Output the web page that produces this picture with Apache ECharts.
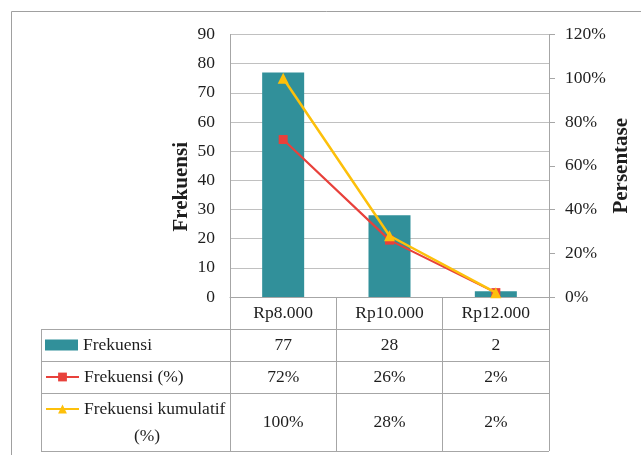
<!DOCTYPE html>
<html>
<head>
<meta charset="utf-8">
<script src="https://cdn.jsdelivr.net/npm/echarts@6/dist/echarts.min.js"></script>
<style>
html,body{margin:0;padding:0;background:#fff;}
#chart{width:641px;height:455px;}
</style>
</head>
<body>
<div id="chart"></div>
<script>
const categories = ['Rp8.000', 'Rp10.000', 'Rp12.000'];
const frekuensi = [77, 28, 2];
const frekuensiPct = [0.72, 0.26, 0.02];
const kumulatifPct = [1.00, 0.28, 0.02];
const seriesNames = ['Frekuensi', 'Frekuensi (%)', 'Frekuensi kumulatif (%)'];
const leftAxisTitle = 'Frekuensi';
const rightAxisTitle = 'Persentase';

const FONT = '"Liberation Serif", "Times New Roman", serif';
const TXT = '#1e1e1e';
const LINE = '#a6a6a6';
const GRID = '#c0c0c0';
const FS = 17.5;
const TEAL = '#31909a', RED = '#e8413b', YEL = '#fdc00b';

const pct = v => Math.round(v * 100) + '%';

const chart = echarts.init(document.getElementById('chart'), null, {renderer: 'canvas'});

const baseLegend = {
  orient: 'vertical', left: 45, padding: 0, itemWidth: 33, itemHeight: 11, itemGap: 5,
  textStyle: {fontFamily: FONT, fontSize: FS, color: TXT, lineHeight: 20},
  selectedMode: false
};

const option = {
  animation: false,
  backgroundColor: '#fff',
  grid: {left: 230, right: 92, top: 34.5, bottom: 158, containLabel: false},
  legend: [
    Object.assign({}, baseLegend, {top: 335, data: [{name: seriesNames[0], icon: 'rect'}]}),
    Object.assign({}, baseLegend, {top: 367, data: [seriesNames[1]]}),
    Object.assign({}, baseLegend, {top: 399, data: [seriesNames[2]], formatter: () => 'Frekuensi kumulatif'})
  ],
  xAxis: {
    type: 'category', data: categories, boundaryGap: true,
    axisLine: {show: true, lineStyle: {color: LINE, width: 1}},
    axisTick: {show: true, length: 154, lineStyle: {color: LINE, width: 1}},
    axisLabel: {margin: 7, fontFamily: FONT, fontSize: FS, color: TXT},
    splitLine: {show: false}
  },
  yAxis: [
    {
      type: 'value', min: 0, max: 90, interval: 10, position: 'left',
      name: leftAxisTitle, nameLocation: 'middle', nameRotate: 90, nameGap: 38,
      nameTextStyle: {fontFamily: FONT, fontSize: 21, fontWeight: 'bold', color: TXT, padding: [0, 42, 0, 0]},
      axisLine: {show: true, lineStyle: {color: LINE}},
      axisTick: {show: false},
      axisLabel: {margin: 15, fontFamily: FONT, fontSize: FS, color: TXT},
      splitLine: {show: true, lineStyle: {color: GRID, width: 1}}
    },
    {
      type: 'value', min: 0, max: 1.2, interval: 0.2, position: 'right',
      name: rightAxisTitle, nameLocation: 'middle', nameRotate: 90, nameGap: 62,
      nameTextStyle: {fontFamily: FONT, fontSize: 21, fontWeight: 'bold', color: TXT},
      axisLine: {show: true, lineStyle: {color: LINE}},
      axisTick: {show: true, length: 6, lineStyle: {color: LINE}},
      axisLabel: {margin: 16, fontFamily: FONT, fontSize: FS, color: TXT, formatter: v => pct(v)},
      splitLine: {show: false}
    }
  ],
  series: [
    {name: seriesNames[0], type: 'bar', data: frekuensi, barWidth: 42, itemStyle: {color: TEAL}, yAxisIndex: 0, z: 2},
    {name: seriesNames[1], type: 'line', data: frekuensiPct, yAxisIndex: 1, symbol: 'rect', symbolSize: 9,
     lineStyle: {color: RED, width: 2.2}, itemStyle: {color: RED}, z: 3},
    {name: seriesNames[2], type: 'line', data: kumulatifPct, yAxisIndex: 1, symbol: 'triangle', symbolSize: 11,
     lineStyle: {color: YEL, width: 2.5}, itemStyle: {color: YEL}, z: 4}
  ]
};
chart.setOption(option);

// Data table below the plot (built from the data arrays)
const rowLines = [329, 361, 393, 451];
const tableLeft = 41;
const plotRight = 641 - 92;
const rowCenters = [345, 377, 422];
const rows = [
  frekuensi.map(v => String(v)),
  frekuensiPct.map(pct),
  kumulatifPct.map(pct)
];
const g = [];
g.push({type: 'rect', shape: {x: 11.5, y: 11.5, width: 700, height: 500}, style: {fill: 'none', stroke: '#a0a0a0', lineWidth: 1}, silent: true, z: 0});
rowLines.forEach(y => g.push({type: 'line', shape: {x1: tableLeft, y1: y + 0.5, x2: plotRight, y2: y + 0.5}, style: {stroke: LINE, lineWidth: 1}, silent: true}));
g.push({type: 'line', shape: {x1: tableLeft + 0.5, y1: rowLines[0], x2: tableLeft + 0.5, y2: rowLines[3]}, style: {stroke: LINE, lineWidth: 1}, silent: true});
rows.forEach((vals, r) => {
  vals.forEach((t, i) => {
    const x = chart.convertToPixel({xAxisIndex: 0}, categories[i]);
    g.push({type: 'text', x: x, y: rowCenters[r], style: {text: t, fontFamily: FONT, fontSize: FS, fill: TXT, align: 'center', verticalAlign: 'middle'}, silent: true});
  });
});
g.push({type: 'text', x: 147, y: 436, style: {text: '(%)', fontFamily: FONT, fontSize: FS, fill: TXT, align: 'center', verticalAlign: 'middle'}, silent: true});
chart.setOption({graphic: g});
</script>
</body>
</html>
